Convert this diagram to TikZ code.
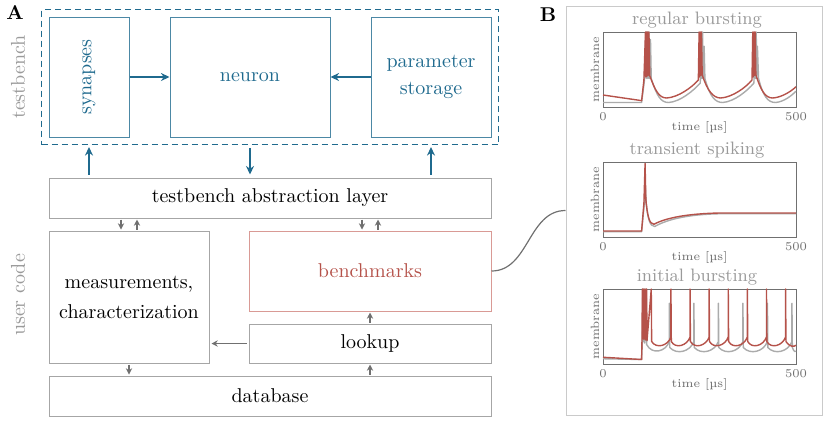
\documentclass[tikz,border=0pt]{standalone}
\usepackage{tikz}
\usetikzlibrary{positioning,arrows.meta,fit}
\definecolor{Blue}{HTML}{1F6A8E}
\definecolor{Red}{HTML}{B5524A}
\definecolor{LightRed}{HTML}{D99A95}
\definecolor{Frame}{HTML}{A6A6A6}
\definecolor{Label}{HTML}{9A9A9A}
\definecolor{Trace}{HTML}{ABABAB}
\definecolor{Axis}{HTML}{707070}

\begin{document}
\begin{tikzpicture}[x=0.5pt,y=-0.5pt,every node/.style={font=\normalsize}]
\tikzstyle{block}=[draw=Frame,line width=0.5pt,inner sep=0pt,align=center]
\tikzstyle{tbblock}=[block,draw=Blue!80,text=Blue,minimum height=60pt]
\tikzstyle{flow}=[-{Stealth[length=1.5mm,width=1.4mm]},line width=0.7pt,Blue]
\tikzstyle{link}=[-{Stealth[length=1.1mm,width=1.1mm]},line width=0.7pt,Axis]
\tikzstyle{side}=[rotate=90,text=Label]
\tikzstyle{axlbl}=[font=\fontsize{6}{7}\selectfont,text=Axis,inner sep=0.5pt]
\tikzstyle{redtrace}=[Red,line width=0.7pt,line join=round]
\tikzstyle{graytrace}=[Trace,line width=0.7pt,line join=round]
\useasboundingbox (0,0) rectangle (830,425);

% panel A: testbench
\node[font=\bfseries] (lblA) at (15,13) {A};
\node[tbblock,minimum width=40pt] (syn) at (89,77) {\rotatebox{90}{synapses}};
\node[tbblock,minimum width=80pt] (neu) at (250,77) {neuron};
\node[tbblock,minimum width=60pt] (par) at (431,77) {parameter\\[1.5pt]storage};
\node[draw=Blue,dash pattern=on 3pt off 2pt,line width=0.5pt,fit=(syn)(par),inner sep=3.5pt] (tb) {};
\node[side] (tbname) at (18,77) {testbench};
\draw[flow] (syn) -- (neu);
\draw[flow] (par) -- (neu);

% panel A: user code
\node[block,minimum width=221pt,minimum height=20pt] (tal) at (270,198) {testbench abstraction layer};
\node[block,minimum width=80pt,minimum height=66pt] (meas) at (129,297) {measurements,\\[3pt]characterization};
\node[block,draw=LightRed,text=Red,minimum width=121pt,minimum height=40pt] (bench) at (370,271) {benchmarks};
\node[block,minimum width=121pt,minimum height=19.5pt] (look) at (370,343.5) {lookup};
\node[block,minimum width=221pt,minimum height=20pt] (db) at (270,396) {database};
\node[side] (ucname) at (18,295) {user code};

\draw[flow] ([yshift=1.5pt]tal.north -| syn.south) -- ([yshift=-1pt]tb.south -| syn.south);
\draw[flow] ([yshift=-1.5pt]tb.south -| neu.south) -- ([yshift=1.5pt]tal.north -| neu.south);
\draw[flow] ([yshift=1.5pt]tal.north -| par.south) -- ([yshift=-1pt]tb.south -| par.south);

\draw[link] ([xshift=-4pt,yshift=-0.5pt]meas.north |- tal.south) -- ([xshift=-4pt,yshift=0.5pt]meas.north);
\draw[link] ([xshift=4pt,yshift=0.5pt]meas.north) -- ([xshift=4pt,yshift=-0.5pt]meas.north |- tal.south);
\draw[link] ([xshift=-4pt,yshift=-0.5pt]bench.north |- tal.south) -- ([xshift=-4pt,yshift=0.5pt]bench.north);
\draw[link] ([xshift=4pt,yshift=0.5pt]bench.north) -- ([xshift=4pt,yshift=-0.5pt]bench.north |- tal.south);
\draw[link] ([yshift=0.5pt]look.north) -- ([yshift=-0.5pt]bench.south);
\draw[link] ([yshift=0.5pt]db.north -| look.north) -- ([yshift=-0.5pt]look.south);
\draw[link] ([yshift=-0.5pt]meas.south) -- ([yshift=0.5pt]meas.south |- db.north);
\draw[link] ([xshift=-1pt]look.west) -- ([xshift=1pt]meas.east |- look.west);

% panel B: example traces
\node[font=\bfseries] (lblB) at (548,15) {B};
\node[draw=Frame!60,line width=0.5pt,minimum width=128pt,minimum height=204.5pt,inner sep=0pt] (pb) at (694,210.5) {};
\draw[Axis,line width=0.6pt] (bench.east) to[out=0,in=180] (pb.west);

\foreach \top/\name/\i in {32/regular bursting/1,162/transient spiking/2,289/initial bursting/3}{
  \node[draw=Axis,line width=0.5pt,minimum width=96.5pt,minimum height=37.5pt,inner sep=0pt] (ax\i) at (699.5,\top+37.5) {};
  \node[text=Label,font=\fontsize{9}{10}\selectfont,inner sep=0pt] (ttl\i) at (697,\top-12) {\name};
  \node[axlbl] (lo\i) at (603,\top+85) {0};
  \node[axlbl] (hi\i) at (796,\top+85) {500};
  \node[axlbl] (tm\i) at (699.5,\top+95) {time [\textmu s]};
  \node[axlbl,rotate=90] (mb\i) at (595,\top+37.5) {membrane};
}

% regular bursting
\begin{scope}[shift={(603,107)},x=0.193pt,y=0.375pt]
\draw[graytrace] (0,6) -- (100,6) -- (107,34) -- (111,100) -- (112,38) -- (115,100) -- (116,38)
  -- (119,100) -- (120,38) -- (123,90) -- (125,38)
  .. controls (140,14) and (150,6) .. (170,6)
  .. controls (200,7) and (235,22) .. (252,32)
  -- (254,100) -- (256,38) -- (258,100) -- (259,38) -- (262,81) -- (264,38)
  .. controls (277,14) and (290,6) .. (310,6)
  .. controls (340,7) and (375,22) .. (391,32)
  -- (393,100) -- (395,38) -- (397,100) -- (398,38) -- (400,81) -- (403,38)
  .. controls (415,14) and (427,6) .. (447,6)
  .. controls (470,7) and (490,16) .. (500,21);
\draw[redtrace] (0,16) -- (100,8.5) -- (106,36)
  -- (110,100) -- (111,40) -- (113,100) -- (114,41) -- (116,100) -- (117,42) -- (119,100) -- (121,42)
  .. controls (135,22) and (145,12) .. (165,12)
  .. controls (195,13) and (230,26) .. (247,36)
  -- (249,100) -- (250,40) -- (252,100) -- (253,42) -- (255,100) -- (257,43)
  .. controls (270,22) and (285,12) .. (305,12)
  .. controls (335,13) and (370,26) .. (386,36)
  -- (388,100) -- (389,40) -- (391,100) -- (392,42) -- (394,100) -- (396,43)
  .. controls (409,22) and (420,12) .. (440,12)
  .. controls (465,13) and (490,22) .. (500,27);
\end{scope}

% transient spiking
\begin{scope}[shift={(603,237)},x=0.193pt,y=0.375pt]
\draw[graytrace] (0,7) -- (100,7) -- (107,44) -- (110,65) -- (112,45)
  .. controls (116,25) and (121,14) .. (134,14)
  .. controls (168,24) and (222,30) .. (300,31) -- (500,31);
\draw[redtrace] (0,8) -- (100,8) -- (106,45) -- (109,98) -- (111,50)
  .. controls (115,28) and (120,17) .. (132,17)
  .. controls (165,26) and (220,31) .. (300,32) -- (500,32);
\end{scope}

% initial bursting
\begin{scope}[shift={(603,364)},x=0.193pt,y=0.375pt]
\draw[graytrace] (0,7) -- (100,6) -- (102,30) -- (103,100) -- (104,30) -- (107,100) -- (108,28)
  -- (112,100) -- (113,26)
  \foreach \t in {172,235.5,...,495}{ .. controls ({\t-45},12) and ({\t-10},16) .. (\t,30) -- (\t,81) -- ({\t+1},22) }
  .. controls (495,16) and (498,16) .. (500,17);
\draw[redtrace] (0,9) -- (100,6) -- (101,32) -- (102,100) -- (103,34) -- (105,100) -- (106,33)
  -- (109,100) -- (110,32) -- (113,100) -- (114,31) -- (125,100) -- (126,30)
  \foreach \t in {176,225.5,...,480}{ .. controls ({\t-38},20) and ({\t-8},24) .. (\t,36) -- (\t,100) -- ({\t+1},30) }
  .. controls (485,22) and (495,23) .. (500,25);
\end{scope}
\end{tikzpicture}
\end{document}
